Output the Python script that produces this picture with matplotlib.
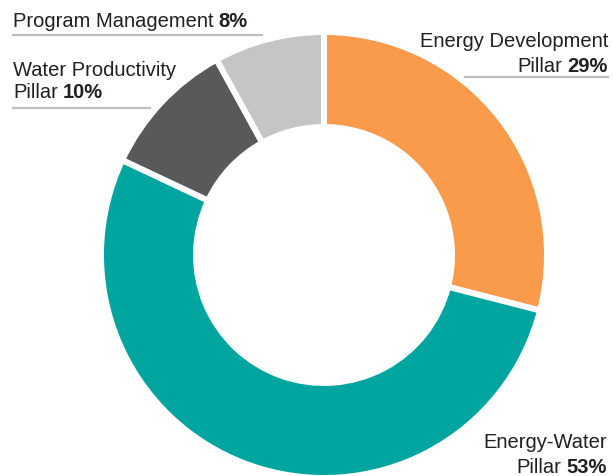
import matplotlib
matplotlib.use("Agg")
import matplotlib.pyplot as plt

# funding split, clockwise from 12 o'clock
labels = ["Energy Development Pillar", "Energy-Water Pillar",
          "Water Productivity Pillar", "Program Management"]
shares = [29, 53, 10, 8]
colors = ["#F99B4A", "#00A59F", "#58595B", "#C4C5C7"]

W, H = 613, 476
fig = plt.figure(figsize=(W / 100, H / 100), dpi=100)
ax = fig.add_axes([0, 0, 1, 1])

def py(y):
    # pixel row (from top) -> data y
    return H - y

ax.pie(shares, colors=colors, startangle=90, counterclock=False,
       center=(324, py(255)), radius=223, frame=True,
       wedgeprops=dict(width=95, edgecolor="white", linewidth=4.3))
ax.set_xlim(0, W)
ax.set_ylim(0, H)
ax.set_aspect("equal")
ax.axis("off")

FONT = ["Liberation Sans", "DejaVu Sans"]
FS = 14.5
TXT = "#231F20"
LINE = "#BDBEC0"

fig.canvas.draw()
r = fig.canvas.get_renderer()

def width_px(t):
    return t.get_window_extent(renderer=r).width

def left_label(x, y, normal, bold):
    t = ax.text(x, py(y), normal, fontsize=FS, family=FONT, color=TXT, va="baseline")
    w = width_px(t)
    ax.text(x + w + 5, py(y), bold, fontsize=FS, family=FONT, color=TXT,
            fontweight="bold", va="baseline")

def right_label(x, y, normal, bold):
    t = ax.text(x, py(y), bold, fontsize=FS, family=FONT, color=TXT,
                fontweight="bold", va="baseline", ha="right")
    w = width_px(t)
    ax.text(x - w - 5, py(y), normal, fontsize=FS, family=FONT, color=TXT,
            va="baseline", ha="right")

# Program Management
left_label(13, 27, "Program Management", f"{shares[3]}%")
ax.plot([13, 262], [py(35), py(35)], color=LINE, lw=1.6)

# Water Productivity
ax.text(13, py(76), "Water Productivity", fontsize=FS, family=FONT, color=TXT, va="baseline")
left_label(13, 98, "Pillar", f"{shares[2]}%")
ax.plot([13, 150], [py(108), py(108)], color=LINE, lw=1.6)

# Energy Development
ax.text(608, py(47), "Energy Development", fontsize=FS, family=FONT, color=TXT,
        va="baseline", ha="right")
right_label(608, 72, "Pillar", f"{shares[0]}%")
ax.plot([465, 608], [py(77), py(77)], color=LINE, lw=1.6)

# Energy-Water
ax.text(607, py(448), "Energy-Water", fontsize=FS, family=FONT, color=TXT,
        va="baseline", ha="right")
right_label(607, 473, "Pillar", f"{shares[1]}%")

fig.savefig("out.png", dpi=100)
